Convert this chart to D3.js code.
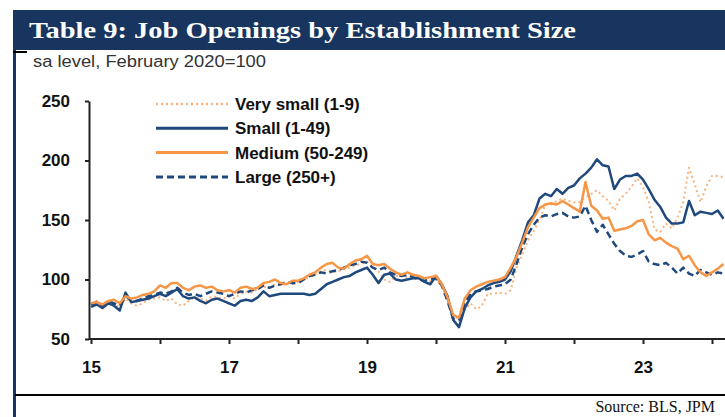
<!DOCTYPE html>
<html>
<head>
<meta charset="utf-8">
<title>Job Openings by Establishment Size</title>
<style>
body { margin: 0; background: #fff; }
svg { display: block; }
.axis text { font: bold 17px "Liberation Sans", Arial, sans-serif; fill: #111; }
.axis path, .axis line { fill: none; stroke: #222; stroke-width: 2px; }
.series { fill: none; stroke-linejoin: round; }
.legend text { font: bold 17px "Liberation Sans", Arial, sans-serif; fill: #111; }
</style>
</head>
<body>
<svg width="725" height="417"></svg>
<script src="https://d3js.org/d3.v7.min.js"></script>
<script>
// monthly, Jan 2015 .. Mar 2024, index Feb 2020 = 100
var startYear = 2015;
var tickYears = [2015, 2016, 2017, 2018, 2019, 2020, 2021, 2022, 2023, 2024];
var yTicks = [50, 100, 150, 200, 250];

var verySmall = [
  80, 82, 77, 80, 79, 77, 84, 80, 78, 80, 83, 84,
  85, 82, 84, 79, 78, 82, 85, 84, 82, 86, 85, 84,
  86, 84, 88, 90, 89, 92, 94, 93, 96, 95, 97, 96,
  98, 100, 102, 104, 107, 108, 106, 107, 109, 110, 112, 113,
  115, 110, 107, 100, 98, 103, 104, 102, 103, 101, 100, 99,
  100, 94, 84, 70, 66, 74, 80, 75, 78, 88, 88, 89,
  88, 91, 110, 121, 133, 141, 150, 163, 163, 166, 168, 166,
  165, 165, 169, 172, 175, 170, 166, 158, 168, 172, 178, 185,
  178, 165, 142, 140, 147, 143, 152, 165, 194, 180, 165, 178,
  187, 187, 186
];
var small = [
  77, 79, 76, 80, 78, 74, 89, 81, 82, 83, 84, 86,
  88, 86, 89, 92, 86, 84, 85, 82, 80, 83, 84, 82,
  80, 78, 82, 83, 82, 85, 90, 86, 87, 88, 88, 88,
  88, 88, 87, 88, 92, 96, 98, 100, 102, 103, 106, 108,
  110, 104, 97, 104, 105, 100, 99, 100, 101, 101, 98, 96,
  103, 96, 86, 66, 60, 76, 85, 90, 92, 95, 97, 98,
  100, 107, 120, 133, 148, 154, 168, 172, 170, 176, 172, 177,
  179, 185, 189, 194, 201, 196, 195, 176, 184, 187, 187, 189,
  184, 176, 167, 161, 152, 147, 147, 148, 166, 154, 157, 156,
  155, 158, 151
];
var medium = [
  80, 81, 79, 82, 83, 80, 86, 84, 85, 87, 88, 90,
  95, 93, 97, 97, 93, 91, 94, 95, 93, 94, 91, 90,
  91, 89, 93, 94, 92, 93, 97, 98, 100, 97, 96, 99,
  99, 101, 104, 106, 110, 113, 114, 110, 109, 113, 116, 117,
  120, 113, 112, 113, 109, 106, 104, 106, 104, 103, 101, 102,
  103, 96, 85, 70, 68, 84, 91, 94, 96, 98, 99, 100,
  102, 110, 119, 131, 144, 152, 160, 163, 164, 163, 166, 163,
  160, 157, 182, 162, 158, 151, 152, 141, 142, 143, 145, 149,
  150, 138, 133, 135, 131, 128, 126, 117, 120, 112, 106, 103,
  106, 109, 113
];
var large = [
  79, 81, 78, 82, 80, 78, 86, 83, 82, 84, 86, 87,
  89, 88, 90, 93, 89, 87, 88, 86, 88, 90, 89, 88,
  86, 88, 90, 89, 91, 92, 95, 93, 95, 96, 98, 97,
  97, 100, 103, 104, 106, 105, 107, 108, 110, 112, 113, 115,
  114, 110, 108, 110, 106, 104, 103, 104, 102, 100, 99, 100,
  101, 95, 82, 67, 66, 80, 88, 90, 91, 92, 94, 95,
  96, 100, 113, 127, 138, 146, 152, 154, 153, 155, 156, 153,
  152, 153, 162, 150, 140, 146, 138, 130, 124, 120, 119, 121,
  124, 115, 113, 112, 114, 110, 105, 110, 105, 103, 108, 106,
  104, 106, 105
];

var seriesNames = ["Very small (1-9)", "Small (1-49)", "Medium (50-249)", "Large (250+)"];
var seriesValues = [verySmall, small, medium, large];
var seriesStyle = [
  {color: "#fab27e", width: 2, dash: "2,3"},
  {color: "#1f497d", width: 2.5, dash: null},
  {color: "#f79646", width: 2.5, dash: null},
  {color: "#1f497d", width: 2.5, dash: "7,4"}
];

(function() {
  var svg = d3.select("svg");

  // frame: header bar, left border, bottom rule
  svg.append("rect").attr("x", 13).attr("y", 10).attr("width", 712).attr("height", 40).attr("fill", "#17355f");
  svg.append("rect").attr("x", 13).attr("y", 10).attr("width", 3).attr("height", 407).attr("fill", "#17355f");
  svg.append("rect").attr("x", 13).attr("y", 51).attr("width", 14).attr("height", 2).attr("fill", "#000");
  svg.append("line").attr("x1", 15).attr("x2", 725).attr("y1", 395).attr("y2", 395)
      .attr("stroke", "#000").attr("stroke-width", 2);

  svg.append("text")
      .attr("x", 29).attr("y", 38)
      .attr("fill", "#fff")
      .attr("font-family", "'Liberation Serif', 'DejaVu Serif', serif")
      .attr("font-weight", "bold")
      .attr("font-size", 24)
      .attr("textLength", 547)
      .attr("lengthAdjust", "spacingAndGlyphs")
      .text("Table 9: Job Openings by Establishment Size");

  svg.append("text")
      .attr("x", 33).attr("y", 67)
      .attr("fill", "#333")
      .attr("font-family", "'Liberation Sans', Arial, sans-serif")
      .attr("font-size", 16)
      .attr("textLength", 233)
      .attr("lengthAdjust", "spacingAndGlyphs")
      .text("sa level, February 2020=100");

  svg.append("text")
      .attr("x", 715).attr("y", 412)
      .attr("text-anchor", "end")
      .attr("fill", "#111")
      .attr("font-family", "'Liberation Serif', serif")
      .attr("font-size", 16)
      .text("Source: BLS, JPM");

  var x = d3.scaleLinear()
      .domain([startYear, startYear + (725 - 91) / 69])
      .range([91, 725]);

  var y = d3.scaleLinear()
      .domain([50, 250])
      .range([339, 101]);

  svg.append("g")
      .attr("class", "axis")
      .attr("transform", "translate(0,339)")
      .call(d3.axisBottom(x)
          .tickValues(tickYears)
          .tickSize(5)
          .tickSizeOuter(0)
          .tickPadding(17)
          .tickFormat(function(d) { return d % 2 ? String(d).slice(2) : ""; }))
    .select(".domain")
      .attr("d", "M89,0H725");

  svg.append("g")
      .attr("class", "axis")
      .attr("transform", "translate(89,0)")
      .call(d3.axisLeft(y)
          .tickValues(yTicks)
          .tickSize(4)
          .tickSizeOuter(0)
          .tickPadding(15));

  var line = d3.line()
      .x(function(d, i) { return x(startYear + i / 12); })
      .y(function(d) { return y(d); });

  var order = [0, 3, 1, 2];
  svg.append("g")
    .selectAll("path")
    .data(order)
    .enter().append("path")
      .attr("class", "series")
      .attr("d", function(k) { return line(seriesValues[k]); })
      .attr("stroke", function(k) { return seriesStyle[k].color; })
      .attr("stroke-width", function(k) { return seriesStyle[k].width; })
      .attr("stroke-dasharray", function(k) { return seriesStyle[k].dash; });

  var legend = svg.append("g")
      .attr("class", "legend")
    .selectAll("g")
    .data(seriesNames)
    .enter().append("g")
      .attr("transform", function(d, i) { return "translate(0," + (104 + i * 24.3) + ")"; });

  legend.append("line")
      .attr("x1", 156).attr("x2", 228)
      .attr("stroke", function(d, i) { return seriesStyle[i].color; })
      .attr("stroke-width", function(d, i) { return seriesStyle[i].width + 0.5; })
      .attr("stroke-dasharray", function(d, i) { return seriesStyle[i].dash; });

  legend.append("text")
      .attr("x", 235)
      .attr("dy", "0.36em")
      .text(function(d) { return d; });
})();
</script>
</body>
</html>
